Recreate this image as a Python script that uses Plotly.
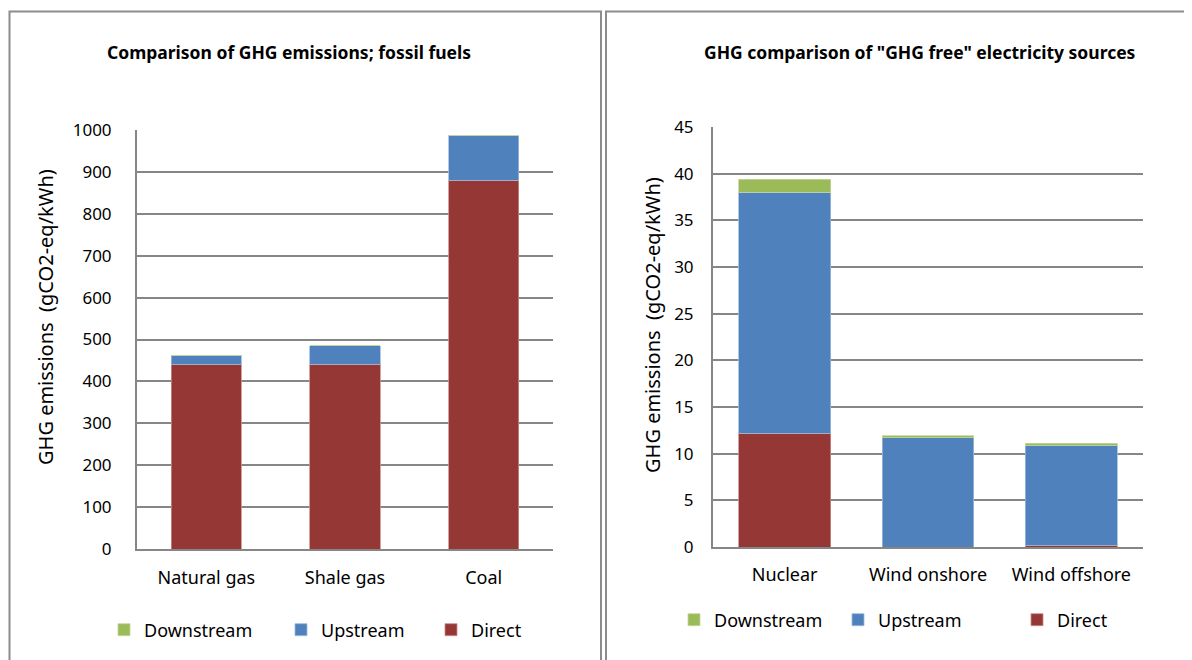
import plotly.graph_objects as go

# page offset (default body margin of the html page)
OFF = 8
W, H = 1192 - OFF, 660 - OFF

# ---- data ----
fossil_categories = ["Natural gas", "Shale gas", "Coal"]
fossil_direct = [441, 441, 880]
fossil_upstream = [22, 44, 108]
fossil_downstream = [0, 0, 0]

free_categories = ["Nuclear", "Wind onshore", "Wind offshore"]
free_direct = [12.2, 0.0, 0.2]
free_upstream = [25.8, 11.7, 10.7]
free_downstream = [1.4, 0.2, 0.2]

series_names = ["Direct", "Upstream", "Downstream"]
series_colors = ["#953735", "#4F81BD", "#9BBB59"]
edge_colors = ["#C98B89", "#9DB9DC", "#C3D79D"]

FONT = "Noto Sans"
GRID = "#868686"


def px_x(p):
    return (p - OFF) / W


def px_y(p):
    return 1 - (p - OFF) / H


fig = go.Figure()

left_vals = [fossil_direct, fossil_upstream, fossil_downstream]
right_vals = [free_direct, free_upstream, free_downstream]

left_legends = ["legend3", "legend2", "legend"]
right_legends = ["legend6", "legend5", "legend4"]

for name, col, ec, vals, lg in zip(series_names, series_colors, edge_colors, left_vals, left_legends):
    fig.add_trace(go.Bar(
        x=fossil_categories, y=vals, name=name, marker_color=col,
        marker_line=dict(color=ec, width=0.8), width=0.505,
        xaxis="x", yaxis="y", legend=lg,
    ))

for name, col, ec, vals, lg in zip(series_names, series_colors, edge_colors, right_vals, right_legends):
    fig.add_trace(go.Bar(
        x=free_categories, y=vals, name=name, marker_color=col,
        marker_line=dict(color=ec, width=0.8), width=0.64,
        xaxis="x2", yaxis="y2", legend=lg,
    ))

ytickfont = dict(family=FONT, size=17, color="#000000")
xtickfont = dict(family=FONT, size=18, color="#000000")
ytitle = "GHG emissions  (gCO2-eq/kWh)"


def legend_at(marker_x, y):
    return dict(orientation="h", x=px_x(marker_x - 21), y=px_y(y), xanchor="left", yanchor="middle",
                font=dict(family=FONT, size=18), itemclick=False, itemdoubleclick=False,
                bgcolor="rgba(0,0,0,0)")


fig.update_layout(
    width=W, height=H,
    margin=dict(l=0, r=0, t=0, b=0, autoexpand=False),
    paper_bgcolor="white", plot_bgcolor="white",
    barmode="stack",
    font=dict(family=FONT, size=17, color="#000000"),
    xaxis=dict(domain=[px_x(137), px_x(553)], anchor="y", automargin=False,
               showline=True, linecolor=GRID, linewidth=2,
               ticks="outside", ticklen=11, tickcolor="rgba(0,0,0,0)", tickangle=0,
               tickfont=xtickfont, showgrid=False, fixedrange=True),
    yaxis=dict(domain=[px_y(549), px_y(130)], anchor="x", automargin=False,
               range=[0, 1000], dtick=100,
               showline=True, linecolor=GRID, linewidth=2,
               showgrid=True, gridcolor=GRID, gridwidth=1.5,
               ticks="outside", ticklen=20, tickcolor="rgba(0,0,0,0)",
               tickfont=ytickfont, zeroline=False),
    xaxis2=dict(domain=[px_x(713), px_x(1143)], anchor="y2", automargin=False,
                showline=True, linecolor=GRID, linewidth=2,
                ticks="outside", ticklen=10, tickcolor="rgba(0,0,0,0)", tickangle=0,
                tickfont=xtickfont, showgrid=False, fixedrange=True),
    yaxis2=dict(domain=[px_y(547), px_y(127)], anchor="x2", automargin=False,
                range=[0, 45], dtick=5,
                showline=True, linecolor=GRID, linewidth=2,
                showgrid=True, gridcolor=GRID, gridwidth=1.5,
                ticks="outside", ticklen=14, tickcolor="rgba(0,0,0,0)",
                tickfont=ytickfont, zeroline=False),
    legend=legend_at(125, 630),
    legend2=legend_at(302, 630),
    legend3=legend_at(452, 630),
    legend4=legend_at(695, 620),
    legend5=legend_at(859, 620),
    legend6=legend_at(1038, 620),
    showlegend=True,
)

# chart titles
fig.add_annotation(text="<b>Comparison of GHG emissions; fossil fuels</b>",
                   x=px_x(289), y=px_y(52), xref="paper", yref="paper",
                   showarrow=False, font=dict(family=FONT, size=17.5), xanchor="center", yanchor="middle")
fig.add_annotation(text="<b>GHG comparison of \"GHG free\" electricity sources</b>",
                   x=px_x(920), y=px_y(52), xref="paper", yref="paper",
                   showarrow=False, font=dict(family=FONT, size=17.5), xanchor="center", yanchor="middle")

# y-axis titles
fig.add_annotation(text=ytitle, textangle=-90,
                   x=px_x(45), y=px_y(317), xref="paper", yref="paper",
                   showarrow=False, font=dict(family=FONT, size=20), xanchor="center", yanchor="middle")
fig.add_annotation(text=ytitle, textangle=-90,
                   x=px_x(652), y=px_y(325), xref="paper", yref="paper",
                   showarrow=False, font=dict(family=FONT, size=20), xanchor="center", yanchor="middle")

# panel frames
fig.add_shape(type="rect", xref="paper", yref="paper",
              x0=px_x(9.5), x1=px_x(601), y0=px_y(680), y1=px_y(11.5),
              line=dict(color="#8C8C8C", width=2), fillcolor="rgba(0,0,0,0)", layer="below")
fig.add_shape(type="rect", xref="paper", yref="paper",
              x0=px_x(606), x1=px_x(1210), y0=px_y(680), y1=px_y(11.5),
              line=dict(color="#8C8C8C", width=2), fillcolor="rgba(0,0,0,0)", layer="below")

fig.write_html("out.html")
